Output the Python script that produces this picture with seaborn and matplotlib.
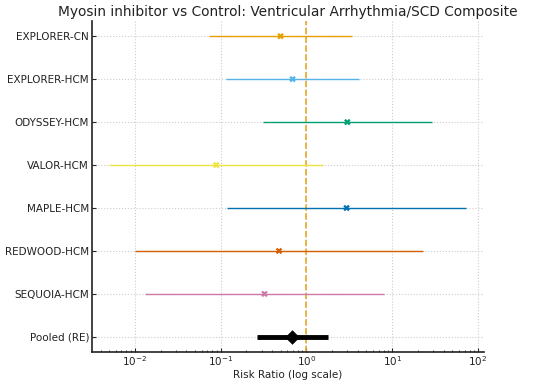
import numpy as np
import pandas as pd
import matplotlib
matplotlib.use('Agg')
import matplotlib.pyplot as plt
import seaborn as sns

# data
studies = ['EXPLORER-CN', 'EXPLORER-HCM', 'ODYSSEY-HCM', 'VALOR-HCM',
           'MAPLE-HCM', 'REDWOOD-HCM', 'SEQUOIA-HCM', 'Pooled (RE)']
rr = [0.50, 0.69, 3.0, 0.089, 2.94, 0.48, 0.325, 0.68]
ci_low = [0.073, 0.117, 0.316, 0.005, 0.12, 0.01, 0.0133, 0.264]
ci_high = [3.37, 4.06, 28.9, 1.58, 71.8, 22.9, 8.0, 1.80]
colors = ['#E69F00', '#56B4E9', '#009E73', '#F0E442',
          '#0072B2', '#D55E00', '#CC79A7', 'black']

df = pd.DataFrame({'study': studies, 'rr': rr, 'lo': ci_low, 'hi': ci_high})
df['y'] = np.arange(len(df))

sns.set_style('ticks')
plt.rcParams['font.family'] = ['DejaVu Sans']

fig, ax = plt.subplots(figsize=(5.5, 3.85), dpi=100)
fig.subplots_adjust(left=0.167, right=0.88, top=0.945, bottom=0.086)

study_df = df.iloc[:-1]
pooled_df = df.iloc[-1:]

ax.hlines(study_df['y'], study_df['lo'], study_df['hi'],
          colors=colors[:-1], linewidth=1.0, zorder=2)
sns.scatterplot(data=study_df, x='rr', y='y', hue='study', palette=colors[:-1],
                marker='X', s=22, linewidth=0, legend=False, ax=ax, zorder=3)

ax.hlines(pooled_df['y'], pooled_df['lo'], pooled_df['hi'],
          colors='black', linewidth=3.5, zorder=2)
sns.scatterplot(data=pooled_df, x='rr', y='y', color='black', marker='D',
                s=55, linewidth=0, legend=False, ax=ax, zorder=3)

ax.axvline(1, color='#E9A825', linestyle='--', linewidth=1.2, zorder=1)

ax.set_xscale('log')
ax.set_xlim(10 ** -2.5, 10 ** 2.07)
ax.set_ylim(len(df) - 1 + 0.35, -0.35)
ax.set_yticks(df['y'])
ax.set_yticklabels(df['study'])
ax.grid(True, which='major', linestyle=':', color='#cccccc', linewidth=0.8)
ax.tick_params(axis='both', which='both', direction='in', labelsize=7.5,
               pad=2, labelcolor='#222222')
ax.tick_params(axis='both', which='major', length=3)
ax.tick_params(axis='x', which='minor', length=1.5)

sns.despine(ax=ax)
for s in ['left', 'bottom']:
    ax.spines[s].set_linewidth(1.2)
    ax.spines[s].set_color('#222222')

ax.set_xlabel('Risk Ratio (log scale)', fontsize=7.5, labelpad=1, color='#222222')
ax.set_ylabel('')
ax.set_title('Myosin inhibitor vs Control: Ventricular Arrhythmia/SCD Composite',
             fontsize=9.9, color='#222222', pad=4)

fig.savefig('out.png', dpi=100)
